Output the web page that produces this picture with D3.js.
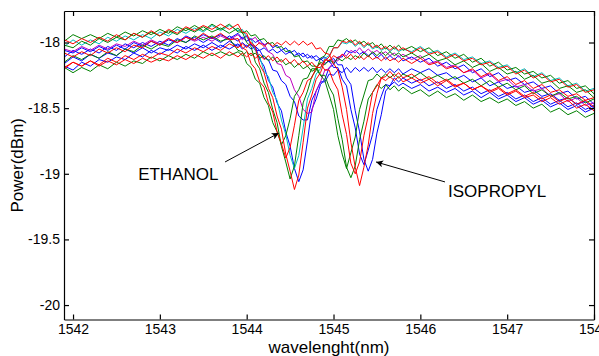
<!DOCTYPE html>
<html>
<head>
<meta charset="utf-8">
<script src="https://cdn.jsdelivr.net/npm/d3@7"></script>
<style>
  body { margin: 0; background: #fff; }
  svg { display: block; font-family: "Liberation Sans", Arial, sans-serif; }
  .axis path, .axis line { stroke: #000; stroke-width: 1.2; }
  .axis text { font-size: 14px; fill: #000; font-family: "Liberation Sans", Arial, sans-serif; }
  .trace { fill: none; stroke-width: 1; }
</style>
</head>
<body>
<svg id="chart" width="599" height="356"></svg>
<script>
// sample grid (nm), finer around the two resonance dips
const wavelength = [1541.9,1542.0,1542.1,1542.2,1542.3,1542.4,1542.5,1542.6,1542.7,1542.8,
  1542.9,1543.0,1543.1,1543.2,1543.3,1543.4,1543.5,1543.6,1543.7,1543.8,
  1543.9,1543.95,1544.0,1544.05,1544.1,1544.15,1544.2,1544.25,1544.3,1544.35,
  1544.4,1544.45,1544.5,1544.55,1544.6,1544.65,1544.7,1544.75,1544.8,1544.85,
  1544.9,1544.95,1545.0,1545.05,1545.1,1545.15,1545.2,1545.25,1545.3,1545.35,
  1545.4,1545.45,1545.5,1545.55,1545.6,1545.65,1545.7,1545.75,1545.8,1545.9,
  1546.0,1546.1,1546.2,1546.3,1546.4,1546.5,1546.6,1546.7,1546.8,1546.9,
  1547.0,1547.1,1547.2,1547.3,1547.4,1547.5,1547.6,1547.7,1547.8,1547.9,
  1548.0];

const xTicks = [1542, 1543, 1544, 1545, 1546, 1547, 1548];
const yTicks = [-18, -18.5, -19, -19.5, -20];

// ethanol traces (dBm)
const ethRed = [-17.98,-18.01,-17.97,-18.00,-17.96,-17.99,-17.94,-17.98,-17.93,-17.96,
  -17.91,-17.95,-17.90,-17.93,-17.88,-17.91,-17.87,-17.90,-17.86,-17.90,
  -17.86,-17.92,-17.93,-18.01,-18.04,-18.17,-18.23,-18.35,-18.42,-18.56,
  -18.66,-18.85,-18.98,-19.12,-19.01,-18.76,-18.50,-18.40,-18.28,-18.23,
  -18.14,-18.11,-18.04,-18.04,-17.99,-18.00,-17.98,-18.02,-17.99,-18.03,
  -18.00,-18.04,-18.02,-18.05,-18.03,-18.06,-18.03,-18.06,-18.04,-18.08,
  -18.04,-18.09,-18.07,-18.12,-18.09,-18.14,-18.12,-18.17,-18.15,-18.20,
  -18.18,-18.24,-18.21,-18.27,-18.24,-18.30,-18.28,-18.34,-18.32,-18.38,
  -18.36];
const ethGreen = [-17.99,-17.94,-17.97,-17.94,-17.97,-17.93,-17.96,-17.92,-17.95,-17.91,
  -17.94,-17.90,-17.93,-17.88,-17.91,-17.87,-17.91,-17.86,-17.90,-17.86,
  -17.92,-17.92,-18.00,-18.03,-18.15,-18.20,-18.31,-18.38,-18.51,-18.61,
  -18.79,-18.91,-19.04,-18.94,-18.71,-18.46,-18.37,-18.26,-18.21,-18.12,
  -18.10,-18.03,-18.03,-17.98,-17.99,-17.97,-18.00,-17.98,-18.01,-17.99,
  -18.02,-18.00,-18.04,-18.01,-18.05,-18.02,-18.05,-18.02,-18.06,-18.03,
  -18.07,-18.04,-18.10,-18.07,-18.12,-18.09,-18.15,-18.12,-18.18,-18.15,
  -18.21,-18.19,-18.24,-18.22,-18.27,-18.25,-18.31,-18.29,-18.35,-18.33,
  -18.39];
const ethBlue = [-18.06,-18.08,-18.04,-18.07,-18.03,-18.06,-18.02,-18.05,-18.00,-18.03,
  -17.99,-18.02,-17.98,-18.00,-17.95,-17.98,-17.94,-17.97,-17.94,-17.97,
  -17.93,-17.97,-17.95,-18.02,-18.03,-18.13,-18.18,-18.29,-18.34,-18.46,
  -18.52,-18.68,-18.79,-18.96,-19.06,-18.97,-18.75,-18.51,-18.43,-18.32,
  -18.28,-18.19,-18.17,-18.11,-18.11,-18.06,-18.08,-18.06,-18.09,-18.07,
  -18.10,-18.08,-18.12,-18.09,-18.13,-18.10,-18.13,-18.10,-18.14,-18.11,
  -18.15,-18.12,-18.18,-18.15,-18.20,-18.17,-18.23,-18.20,-18.26,-18.23,
  -18.29,-18.27,-18.32,-18.30,-18.35,-18.33,-18.39,-18.37,-18.43,-18.41,
  -18.47];
const ethCyan = [-18.03,-17.98,-18.02,-17.98,-18.01,-17.96,-17.99,-17.95,-17.98,-17.94,
  -17.97,-17.92,-17.95,-17.90,-17.93,-17.89,-17.92,-17.87,-17.91,-17.87,
  -17.91,-17.90,-17.96,-17.97,-18.06,-18.11,-18.22,-18.26,-18.38,-18.44,
  -18.59,-18.70,-18.86,-18.96,-18.86,-18.65,-18.43,-18.35,-18.24,-18.20,
  -18.12,-18.10,-18.04,-18.04,-18.00,-18.01,-17.99,-18.03,-18.00,-18.04,
  -18.01,-18.05,-18.03,-18.06,-18.04,-18.07,-18.04,-18.07,-18.05,-18.07,
  -18.03,-18.08,-18.06,-18.11,-18.08,-18.13,-18.11,-18.16,-18.14,-18.19,
  -18.17,-18.23,-18.20,-18.26,-18.23,-18.29,-18.27,-18.33,-18.31,-18.37,
  -18.35];
const ethRed2 = [-18.08,-18.11,-18.07,-18.10,-18.05,-18.08,-18.04,-18.07,-18.02,-18.04,
  -17.99,-18.02,-17.97,-18.00,-17.96,-17.98,-17.93,-17.97,-17.93,-17.98,
  -17.97,-18.04,-18.06,-18.16,-18.20,-18.30,-18.34,-18.46,-18.53,-18.68,
  -18.77,-18.88,-18.80,-18.63,-18.44,-18.38,-18.29,-18.27,-18.19,-18.19,
  -18.13,-18.14,-18.10,-18.12,-18.09,-18.12,-18.09,-18.13,-18.10,-18.13,
  -18.10,-18.13,-18.11,-18.14,-18.11,-18.14,-18.12,-18.15,-18.12,-18.16,
  -18.12,-18.17,-18.15,-18.20,-18.18,-18.23,-18.20,-18.26,-18.23,-18.29,
  -18.26,-18.32,-18.29,-18.35,-18.32,-18.38,-18.36,-18.41,-18.39,-18.44,
  -18.42];
const ethGreen2 = [-18.15,-18.10,-18.13,-18.09,-18.12,-18.07,-18.10,-18.05,-18.07,-18.02,
  -18.05,-18.01,-18.03,-17.98,-18.00,-17.95,-17.98,-17.95,-17.99,-17.97,
  -18.06,-18.07,-18.16,-18.19,-18.28,-18.31,-18.42,-18.48,-18.61,-18.68,
  -18.78,-18.71,-18.58,-18.41,-18.36,-18.28,-18.27,-18.20,-18.20,-18.15,
  -18.17,-18.13,-18.16,-18.12,-18.14,-18.11,-18.13,-18.10,-18.12,-18.08,
  -18.11,-18.07,-18.10,-18.07,-18.10,-18.07,-18.10,-18.08,-18.11,-18.08,
  -18.12,-18.09,-18.14,-18.12,-18.17,-18.14,-18.19,-18.16,-18.22,-18.19,
  -18.24,-18.22,-18.28,-18.25,-18.31,-18.29,-18.35,-18.33,-18.38,-18.36,
  -18.42];
const ethMagenta = [-18.05,-18.07,-18.03,-18.06,-18.02,-18.05,-18.01,-18.03,-17.99,-18.02,
  -17.98,-18.01,-17.97,-18.00,-17.96,-17.99,-17.96,-17.99,-17.95,-17.98,
  -17.94,-17.98,-17.95,-17.98,-17.96,-18.01,-18.01,-18.07,-18.09,-18.16,
  -18.17,-18.25,-18.27,-18.36,-18.41,-18.51,-18.54,-18.53,-18.37,-18.30,
  -18.21,-18.20,-18.14,-18.14,-18.09,-18.10,-18.06,-18.08,-18.04,-18.08,
  -18.05,-18.08,-18.06,-18.09,-18.07,-18.10,-18.08,-18.11,-18.09,-18.13,
  -18.10,-18.16,-18.14,-18.19,-18.17,-18.23,-18.21,-18.27,-18.24,-18.30,
  -18.28,-18.34,-18.32,-18.37,-18.35,-18.41,-18.39,-18.45,-18.42,-18.48,
  -18.46];
const ethBlue2 = [-18.16,-18.11,-18.14,-18.09,-18.12,-18.08,-18.10,-18.05,-18.08,-18.04,
  -18.08,-18.04,-18.06,-18.02,-18.05,-18.01,-18.04,-18.00,-18.04,-17.99,
  -18.03,-18.00,-18.03,-18.01,-18.06,-18.06,-18.12,-18.13,-18.21,-18.22,
  -18.29,-18.32,-18.41,-18.45,-18.56,-18.59,-18.59,-18.44,-18.37,-18.30,
  -18.30,-18.24,-18.25,-18.21,-18.23,-18.19,-18.23,-18.19,-18.22,-18.19,
  -18.22,-18.19,-18.23,-18.20,-18.23,-18.20,-18.23,-18.20,-18.24,-18.20,
  -18.23,-18.20,-18.25,-18.23,-18.28,-18.25,-18.30,-18.27,-18.33,-18.30,
  -18.35,-18.33,-18.38,-18.36,-18.41,-18.39,-18.44,-18.42,-18.47,-18.45,
  -18.50];

// isopropyl traces (dBm)
const isoRed = [-18.20,-18.15,-18.18,-18.14,-18.17,-18.12,-18.15,-18.10,-18.13,-18.09,
  -18.12,-18.08,-18.10,-18.05,-18.08,-18.04,-18.07,-18.03,-18.06,-18.01,
  -18.04,-18.01,-18.04,-18.00,-18.03,-18.00,-18.03,-18.00,-18.03,-18.00,
  -18.02,-17.99,-18.02,-17.99,-18.02,-17.99,-18.02,-18.00,-18.05,-18.04,
  -18.08,-18.09,-18.16,-18.21,-18.34,-18.51,-18.76,-18.95,-19.09,-18.95,
  -18.78,-18.54,-18.39,-18.27,-18.26,-18.22,-18.26,-18.23,-18.27,-18.24,
  -18.29,-18.26,-18.31,-18.28,-18.33,-18.31,-18.36,-18.33,-18.38,-18.35,
  -18.40,-18.37,-18.42,-18.40,-18.45,-18.42,-18.47,-18.44,-18.50,-18.47,
  -18.52];
const isoGreen = [-18.19,-18.23,-18.19,-18.22,-18.17,-18.20,-18.15,-18.18,-18.14,-18.16,
  -18.11,-18.14,-18.10,-18.13,-18.09,-18.12,-18.07,-18.10,-18.07,-18.10,
  -18.07,-18.10,-18.07,-18.10,-18.08,-18.12,-18.10,-18.14,-18.11,-18.15,
  -18.13,-18.17,-18.15,-18.19,-18.16,-18.20,-18.18,-18.22,-18.20,-18.25,
  -18.25,-18.34,-18.40,-18.58,-18.74,-18.95,-19.03,-18.94,-18.74,-18.60,
  -18.43,-18.38,-18.32,-18.35,-18.32,-18.36,-18.33,-18.37,-18.34,-18.39,
  -18.36,-18.41,-18.37,-18.42,-18.39,-18.44,-18.40,-18.45,-18.42,-18.46,
  -18.43,-18.48,-18.45,-18.50,-18.47,-18.53,-18.50,-18.55,-18.52,-18.57,
  -18.54];
const isoBlue = [-18.18,-18.21,-18.15,-18.18,-18.13,-18.15,-18.11,-18.13,-18.08,-18.11,
  -18.06,-18.09,-18.05,-18.08,-18.03,-18.06,-18.02,-18.06,-18.02,-18.05,
  -18.01,-18.05,-18.02,-18.05,-18.03,-18.06,-18.04,-18.07,-18.05,-18.08,
  -18.06,-18.09,-18.07,-18.10,-18.08,-18.11,-18.09,-18.12,-18.10,-18.13,
  -18.11,-18.15,-18.12,-18.17,-18.17,-18.27,-18.32,-18.52,-18.68,-18.89,
  -18.98,-18.89,-18.69,-18.55,-18.37,-18.33,-18.27,-18.30,-18.27,-18.31,
  -18.28,-18.33,-18.30,-18.35,-18.32,-18.37,-18.34,-18.39,-18.36,-18.41,
  -18.38,-18.43,-18.40,-18.45,-18.42,-18.47,-18.44,-18.49,-18.46,-18.51,
  -18.48];
const isoRed2 = [-18.19,-18.15,-18.18,-18.14,-18.18,-18.14,-18.17,-18.13,-18.16,-18.12,
  -18.15,-18.12,-18.14,-18.10,-18.13,-18.09,-18.12,-18.08,-18.12,-18.07,
  -18.11,-18.08,-18.11,-18.08,-18.12,-18.09,-18.13,-18.10,-18.14,-18.11,
  -18.15,-18.12,-18.16,-18.13,-18.17,-18.14,-18.18,-18.15,-18.19,-18.16,
  -18.21,-18.21,-18.30,-18.36,-18.55,-18.70,-18.92,-19.00,-18.91,-18.71,
  -18.56,-18.38,-18.33,-18.27,-18.29,-18.26,-18.29,-18.26,-18.30,-18.27,
  -18.31,-18.28,-18.33,-18.29,-18.34,-18.31,-18.36,-18.33,-18.37,-18.34,
  -18.39,-18.36,-18.41,-18.38,-18.43,-18.40,-18.45,-18.42,-18.47,-18.44,
  -18.49];
const isoGreen2 = [-18.02,-18.04,-17.99,-18.02,-17.97,-18.00,-17.96,-17.98,-17.93,-17.96,
  -17.92,-17.95,-17.91,-17.94,-17.89,-17.92,-17.88,-17.92,-17.89,-17.93,
  -17.89,-17.93,-17.91,-17.95,-17.94,-17.98,-17.97,-18.01,-18.00,-18.04,
  -18.03,-18.07,-18.06,-18.11,-18.10,-18.15,-18.14,-18.18,-18.18,-18.25,
  -18.29,-18.40,-18.51,-18.71,-18.85,-18.96,-18.84,-18.72,-18.51,-18.40,
  -18.29,-18.28,-18.24,-18.27,-18.24,-18.27,-18.24,-18.27,-18.24,-18.27,
  -18.23,-18.28,-18.25,-18.29,-18.26,-18.31,-18.28,-18.33,-18.29,-18.34,
  -18.31,-18.36,-18.33,-18.39,-18.36,-18.41,-18.38,-18.43,-18.41,-18.46,
  -18.43];
const isoBlue2 = [-18.11,-18.06,-18.09,-18.05,-18.08,-18.03,-18.06,-18.01,-18.04,-18.00,
  -18.03,-17.99,-18.02,-17.97,-18.00,-17.96,-18.00,-17.96,-18.00,-17.95,
  -17.99,-17.96,-17.99,-17.97,-18.00,-17.98,-18.02,-18.00,-18.04,-18.02,
  -18.06,-18.04,-18.08,-18.06,-18.10,-18.08,-18.12,-18.10,-18.14,-18.12,
  -18.16,-18.14,-18.19,-18.19,-18.28,-18.33,-18.51,-18.65,-18.85,-18.93,
  -18.82,-18.70,-18.51,-18.41,-18.32,-18.33,-18.30,-18.33,-18.31,-18.35,
  -18.32,-18.37,-18.34,-18.38,-18.35,-18.40,-18.37,-18.42,-18.38,-18.43,
  -18.40,-18.45,-18.42,-18.47,-18.44,-18.49,-18.46,-18.51,-18.48,-18.53,
  -18.50];

const red = "#ff0000", green = "#008000", blue = "#0000ff", cyan = "#00bfbf", magenta = "#bf00bf";

// draw order: later ones on top
const series = [
  {values: ethBlue2, color: blue},
  {values: isoBlue2, color: blue},
  {values: ethBlue, color: blue},
  {values: isoBlue, color: blue},
  {values: ethCyan, color: cyan},
  {values: ethMagenta, color: magenta},
  {values: ethGreen2, color: green},
  {values: isoGreen2, color: green},
  {values: ethGreen, color: green},
  {values: isoGreen, color: green},
  {values: ethRed2, color: red},
  {values: isoRed2, color: red},
  {values: ethRed, color: red},
  {values: isoRed, color: red}
];

const notes = [
  {text: "ETHANOL", tx: 1542.75, ty: -19.047, from: [1543.751, -18.91], to: [1544.37, -18.69]},
  {text: "ISOPROPYL", tx: 1546.319, ty: -19.176, from: [1546.284, -19.062], to: [1545.49, -18.91]}
];

const svg = d3.select("#chart");
const plotLeft = 64, plotRight = 594, plotTop = 11, plotBottom = 319.5;

const x = d3.scaleLinear().domain([1541.896, 1548]).range([plotLeft, plotRight]);
const y = d3.scaleLinear().domain([-20.11, -17.76]).range([plotBottom, plotTop]);

const defs = svg.append("defs");
defs.append("clipPath").attr("id", "plotClip")
  .append("rect").attr("x", plotLeft).attr("y", plotTop)
  .attr("width", plotRight - plotLeft).attr("height", plotBottom - plotTop);
defs.append("marker").attr("id", "arrow")
  .attr("viewBox", "0 0 10 10").attr("refX", 10).attr("refY", 5)
  .attr("markerWidth", 10).attr("markerHeight", 7)
  .attr("markerUnits", "userSpaceOnUse").attr("orient", "auto")
  .append("path").attr("d", "M0,0L10,5L0,10L2.5,5z").attr("fill", "#000");

// traces
const line = d3.line()
  .x((d, i) => x(wavelength[i]))
  .y(d => y(d));

svg.append("g").attr("clip-path", "url(#plotClip)")
  .selectAll("path")
  .data(series)
  .enter().append("path")
  .attr("class", "trace")
  .attr("stroke", d => d.color)
  .attr("d", d => line(d.values));

// axes, MATLAB style box with inward ticks
svg.append("g").attr("class", "axis")
  .attr("transform", "translate(0," + plotBottom + ")")
  .call(d3.axisBottom(x).tickValues(xTicks).tickSizeInner(-5).tickSizeOuter(0)
    .tickPadding(4.5).tickFormat(d => String(d)));

svg.append("g").attr("class", "axis")
  .attr("transform", "translate(0," + plotTop + ")")
  .call(d3.axisTop(x).tickValues(xTicks).tickSizeInner(-5).tickSizeOuter(0).tickFormat(""));

svg.append("g").attr("class", "axis")
  .attr("transform", "translate(" + plotLeft + ",0)")
  .call(d3.axisLeft(y).tickValues(yTicks).tickSizeInner(-5).tickSizeOuter(0)
    .tickPadding(4).tickFormat(d => String(d)));

svg.append("g").attr("class", "axis")
  .attr("transform", "translate(" + plotRight + ",0)")
  .call(d3.axisRight(y).tickValues(yTicks).tickSizeInner(-5).tickSizeOuter(0).tickFormat(""));

// axis titles
svg.append("text")
  .attr("x", (plotLeft + plotRight) / 2).attr("y", 353)
  .attr("text-anchor", "middle").attr("font-size", 17)
  .text("wavelenght(nm)");

svg.append("text")
  .attr("transform", "translate(23," + (plotTop + plotBottom) / 2 + ") rotate(-90)")
  .attr("text-anchor", "middle").attr("font-size", 17)
  .text("Power(dBm)");

// annotations
const ann = svg.append("g");
notes.forEach(n => {
  ann.append("line")
    .attr("x1", x(n.from[0])).attr("y1", y(n.from[1]))
    .attr("x2", x(n.to[0])).attr("y2", y(n.to[1]))
    .attr("stroke", "#000").attr("stroke-width", 1)
    .attr("marker-end", "url(#arrow)");
  ann.append("text")
    .attr("x", x(n.tx)).attr("y", y(n.ty))
    .attr("font-size", 17)
    .text(n.text);
});
</script>
</body>
</html>
